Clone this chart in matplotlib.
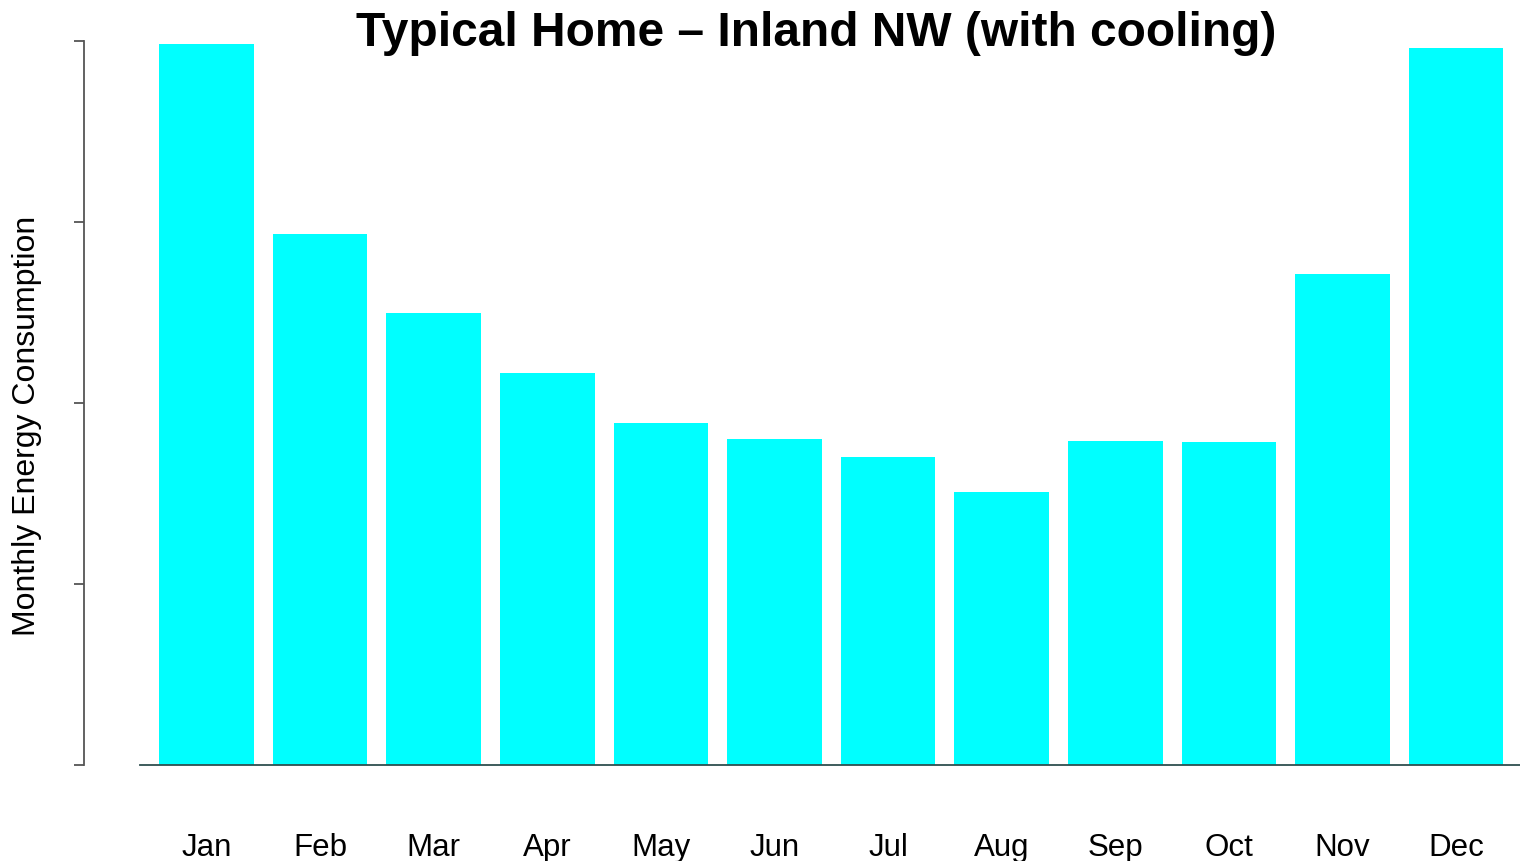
import matplotlib.pyplot as plt
import numpy as np

plt.rcParams["font.family"] = ["Liberation Sans", "DejaVu Sans"]

# Monthly consumption (arbitrary units, axis carries no tick labels)
months = ["Jan", "Feb", "Mar", "Apr", "May", "Jun",
          "Jul", "Aug", "Sep", "Oct", "Nov", "Dec"]
consumption = [1992, 1467, 1249, 1083, 945, 900, 851, 754, 895, 892, 1356, 1981]
y_ticks = [0, 500, 1000, 1500, 2000]

W, H = 1520, 861
fig = plt.figure(figsize=(W / 100, H / 100), dpi=100)
ax = fig.add_axes([140 / W, (H - 765) / H, 1380 / W, (765 - 41) / H])

x = np.arange(len(months))
ax.bar(x, consumption, width=0.833, color="#00FFFF", edgecolor="none")

ax.set_xlim(-0.585, 11.563)
ax.set_ylim(0, 2000)

for side in ("top", "right"):
    ax.spines[side].set_visible(False)
ax.spines["bottom"].set_color("#2f4f4f")
ax.spines["bottom"].set_linewidth(1.3)
ax.spines["left"].set_position(("outward", 40))
ax.spines["left"].set_bounds(0, 2000)
ax.spines["left"].set_color("#555555")
ax.spines["left"].set_linewidth(1.3)

ax.set_yticks(y_ticks)
ax.set_yticklabels([])
ax.tick_params(axis="y", length=7, width=1.3, color="#555555")

ax.set_xticks(x)
ax.set_xticklabels(months, fontsize=22.5)
ax.tick_params(axis="x", length=0, pad=49)

fig.text(27 / W, 1 - 426 / H, "Monthly Energy Consumption", rotation=90,
         ha="center", va="center", fontsize=23)
fig.text(816 / W, 1 - 34 / H, "Typical Home \u2013 Inland NW (with cooling)",
         ha="center", va="center", fontsize=34.5, fontweight="bold")

fig.savefig("out.png", dpi=100)
